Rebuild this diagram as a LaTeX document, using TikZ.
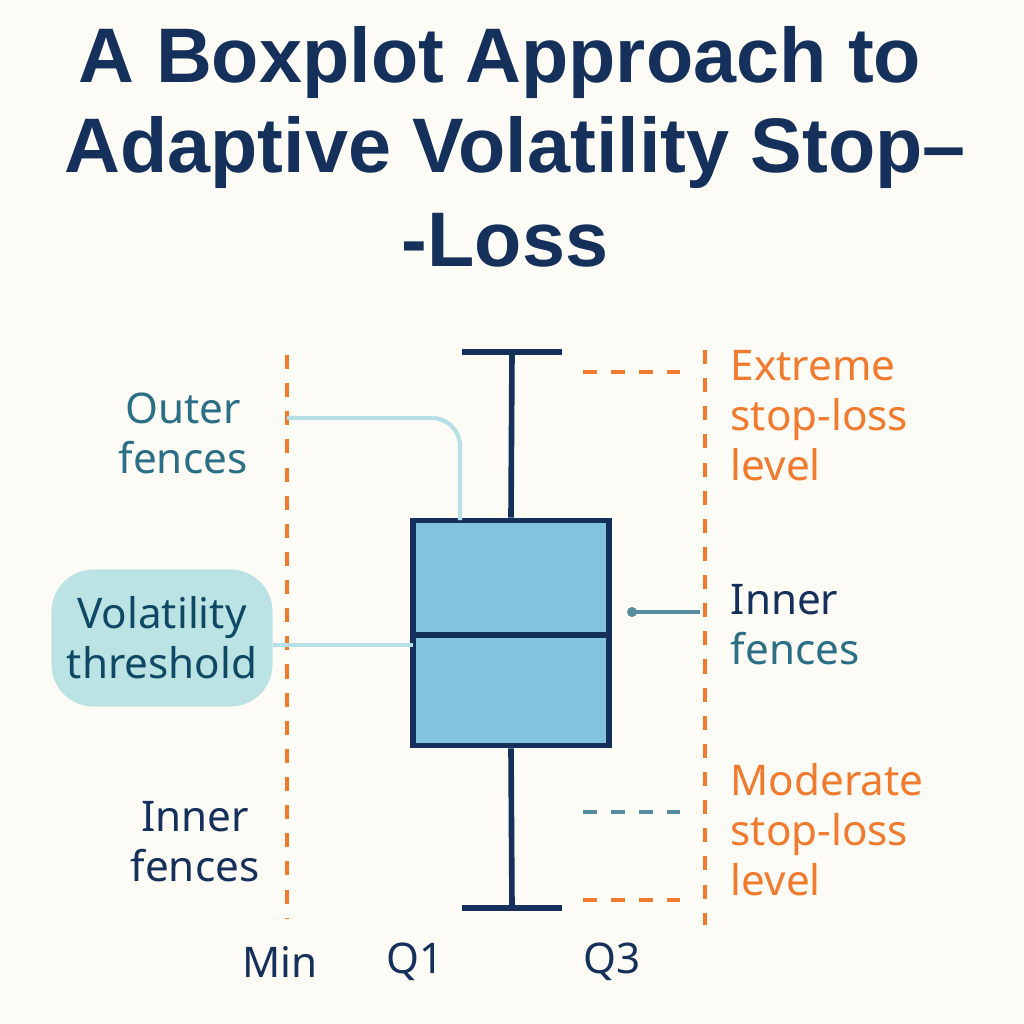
\documentclass[tikz,border=0pt]{standalone}
\usepackage{fontspec}
\setmainfont{Noto Sans}
\newfontfamily\titlefont{Liberation Sans}
\usetikzlibrary{positioning}
\definecolor{navy}{HTML}{15305A}
\definecolor{boxblue}{HTML}{82C3DE}
\definecolor{fence}{HTML}{F07A2E}
\definecolor{tealtxt}{HTML}{2A6F86}
\definecolor{lightline}{HTML}{B6E0E6}
\definecolor{paper}{HTML}{FDFBF5}
\definecolor{threshfill}{HTML}{BCE3E3}

\begin{document}
\begin{tikzpicture}[x=0.01cm, y=-0.01cm,
	title/.style={font=\titlefont\bfseries\fontsize{22}{26}\selectfont, text=navy},
	lbl/.style={font=\fontsize{12}{14.2}\selectfont, align=center, inner sep=0pt},
	whisk/.style={draw=navy, line width=1.6pt},
	fenceline/.style={draw=fence, line width=1pt, dash pattern=on 4pt off 4pt},
	guide/.style={draw=lightline, line width=1.2pt}]
	\useasboundingbox (0,0) rectangle (1024,1024);
	\fill[paper] (0,0) rectangle (1024,1024);
	% title
	\node[title] (t1) at (500,62) {A Boxplot Approach to};
	\node[title] (t2) at (515,152) {Adaptive Volatility Stop–};
	\node[title] (t3) at (505,240) {-Loss};
	% fences
	\coordinate (lf1) at (287,355); \coordinate (lf2) at (287,918);
	\coordinate (rf1) at (705,350); \coordinate (rf2) at (705,925);
	\draw[fenceline] (lf1) -- (lf2);
	\draw[fenceline] (rf1) -- (rf2);
	% boxplot
	\node[draw=navy, line width=1.6pt, fill=boxblue, minimum width=1.96cm, minimum height=2.25cm, inner sep=0pt] (box) at (511,633) {};
	\coordinate (med1) at (413,635); \coordinate (med2) at (609,635);
	\draw[whisk] (med1) -- (med2);
	\coordinate (top) at (512,352); \coordinate (bot) at (512,908);
	\draw[whisk] (box.north) -- (top);
	\draw[whisk] (box.south) -- (bot);
	\draw[whisk] (462,352) -- (562,352);
	\draw[whisk] (462,908) -- (562,908);
	% short dashes
	\draw[fenceline] (583,372) -- (680,372);
	\draw[fenceline] (583,900) -- (680,900);
	\draw[fenceline, draw=tealtxt!80] (583,812) -- (680,812);
	% labels left
	\node[lbl, text=tealtxt] (outer) at (183,433) {Outer\\fences};
	\draw[guide, rounded corners=8pt] (lf1 |- 0,418) -- (460,418) -- (460,520);
	\node[lbl, fill=threshfill, rounded corners=12pt, minimum width=2.21cm, minimum height=1.37cm, text=navy!70!teal] (thresh) at (162,638) {Volatility\\threshold};
	\draw[guide] (thresh.east |- 0,645) -- (med1 |- 0,645);
	\node[lbl, text=navy] (innerL) at (195,842) {Inner\\fences};
	% labels right
	\node[lbl, text=fence, align=left, anchor=west] (extreme) at (730,416) {Extreme\\stop-loss\\level};
	\node[lbl, text=navy, align=left, anchor=west] (innerR) at (730,625) {Inner\\\textcolor{tealtxt}{fences}};
	\coordinate (dot) at (632,612);
	\fill[tealtxt!80] (dot) circle (5);
	\draw[tealtxt!80, line width=1pt] (dot) -- (700,612);
	\node[lbl, text=fence, align=left, anchor=west] (moderate) at (730,830) {Moderate\\stop-loss\\level};
	% axis labels
	\node[lbl, text=navy] (min) at (280,962) {Min};
	\node[lbl, text=navy] (q1) at (415,962) {Q1};
	\node[lbl, text=navy] (q3) at (612,962) {Q3};
\end{tikzpicture}
\end{document}
